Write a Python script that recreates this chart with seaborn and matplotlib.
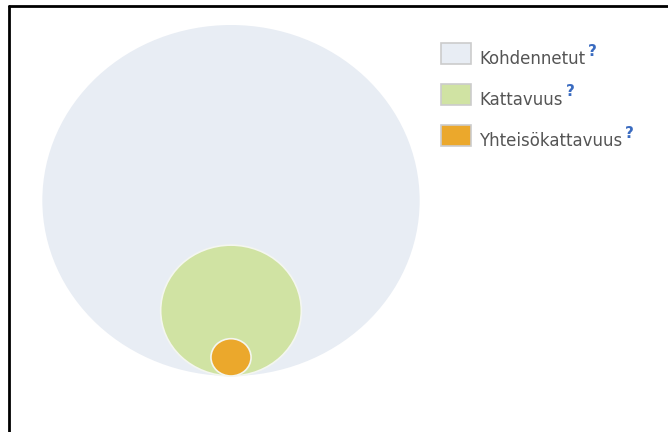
import matplotlib
matplotlib.use("Agg")
import matplotlib.pyplot as plt
from matplotlib.patches import Ellipse, Rectangle
from matplotlib.lines import Line2D
import matplotlib.transforms as mtransforms
import seaborn as sns
import numpy as np

# Data (relative reach, area-proportional)
labels = ["Kohdennetut", "Kattavuus", "Yhteisökattavuus"]
values = [100.0, 13.9, 1.13]
colors = ["#E8EDF4", "#D0E3A3", "#EBA82C"]

sns.set_theme(style="white")
plt.rcParams['font.family'] = ['DejaVu Sans']

fig = plt.figure(figsize=(6.68, 4.32), dpi=100)
ax = fig.add_axes([0, 0, 1, 1])
ax.set_xlim(0, 668)
ax.set_ylim(432, 0)
ax.axis("off")

# circle geometry (bottom-aligned nested circles)
cx, bottom = 231, 376
rmax = 175.5
xstretch = 1.075
for i, (lab, v, c) in enumerate(zip(labels, values, colors)):
    r = rmax * np.sqrt(v / values[0])
    ec = "none" if i == 0 else "#F4F6F0"
    e = Ellipse((cx, bottom - r), width=2 * r * xstretch, height=2 * r,
                facecolor=c, edgecolor=ec, linewidth=1.2, zorder=i + 1)
    ax.add_patch(e)

# legend
lx, ly0, dy = 441, 43, 41
blend = mtransforms.blended_transform_factory(mtransforms.IdentityTransform(), ax.transData)
for i, (lab, c) in enumerate(zip(labels, colors)):
    y = ly0 + i * dy
    ax.add_patch(Rectangle((lx, y), 30, 21, facecolor=c, edgecolor="#CCCCCC",
                           linewidth=1.2, zorder=5))
    t = ax.text(lx + 38, y + 16, lab, fontsize=12, color="#555555",
                va="center", ha="left", zorder=6)
    fig.canvas.draw()
    bb = t.get_window_extent()
    ax.text(bb.x1 + 3, y + 8, "?", fontsize=11, color="#3A6BC0",
            fontweight="bold", va="center", ha="left",
            transform=blend, zorder=6)

# frame lines (left and top)
fig.add_artist(Line2D([9 / 668, 9 / 668], [0, 1 - 6 / 432], color="black", linewidth=2))
fig.add_artist(Line2D([9 / 668, 1], [1 - 6 / 432, 1 - 6 / 432], color="black", linewidth=2))

fig.savefig("out.png", dpi=100)
